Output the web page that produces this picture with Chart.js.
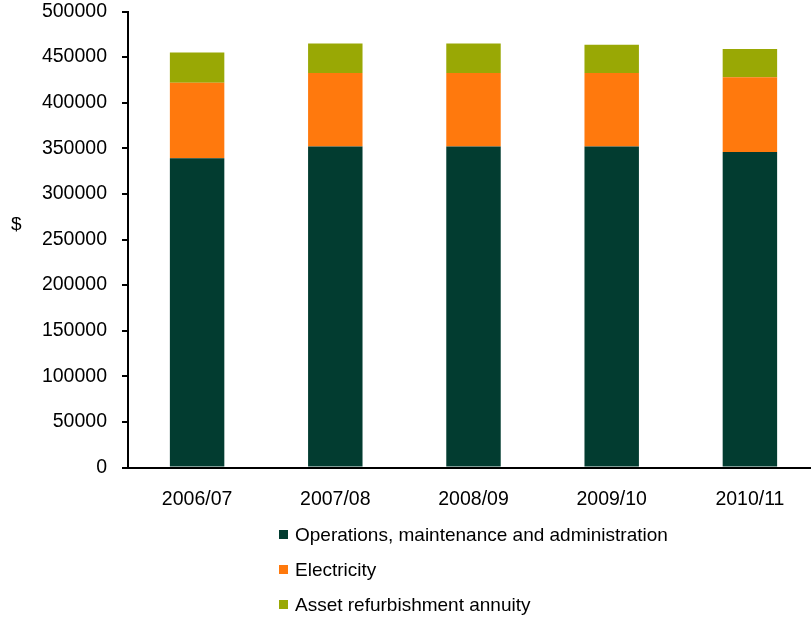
<!DOCTYPE html>
<html>
<head>
<meta charset="utf-8">
<title>Annual costs</title>
<script src="https://cdn.jsdelivr.net/npm/chart.js@4"></script>
<style>
    body { margin: 0; overflow: hidden; background: #fff; font-family: "Liberation Sans", Arial, sans-serif; color: #000; }
    #wrap { position: relative; width: 811px; height: 620px; overflow: hidden; }
    #chart { position: absolute; left: 0; top: 0; }
    #y-title { position: absolute; left: 11px; top: 213px; font-size: 19px; }
    #legend { position: absolute; left: 279px; top: 517px; }
    .legend-item { display: flex; align-items: center; height: 35px; font-size: 19px; }
    .legend-swatch { width: 9px; height: 9px; margin-right: 7px; }
</style>
</head>
<body>
<div id="wrap">
    <canvas id="chart" width="819" height="520"></canvas>
    <div id="y-title">$</div>
    <div id="legend"></div>
</div>
<script>
// Financial years
const years = ['2006/07', '2007/08', '2008/09', '2009/10', '2010/11'];

// Cost components ($)
const operations = [339000, 352000, 352000, 352000, 346000];
const electricity = [83000, 80500, 80500, 80500, 82000];
const assetAnnuity = [33000, 32500, 32500, 31000, 31000];

const seriesNames = [
    'Operations, maintenance and administration',
    'Electricity',
    'Asset refurbishment annuity'
];
const seriesColors = ['#023c30', '#ff790d', '#99a805'];

const tickFont = { family: '"Liberation Sans", Arial, sans-serif', size: 19.5 };

const datasets = [operations, electricity, assetAnnuity].map((values, i) => ({
    label: seriesNames[i],
    data: values,
    backgroundColor: seriesColors[i],
    borderWidth: 0,
    barPercentage: 0.394,
    categoryPercentage: 1
}));

const costChart = new Chart(document.getElementById('chart'), {
    type: 'bar',
    data: { labels: years, datasets: datasets },
    options: {
        responsive: false,
        animation: false,
        devicePixelRatio: 1,
        layout: { padding: 0 },
        plugins: {
            legend: { display: false },
            tooltip: { enabled: false }
        },
        scales: {
            x: {
                stacked: true,
                grid: { drawOnChartArea: false, drawTicks: false },
                border: { color: '#000', width: 2 },
                ticks: { color: '#000', font: tickFont, padding: 20 },
                afterFit: scale => { scale.height = 52.5; }
            },
            y: {
                stacked: true,
                min: 0,
                max: 500000,
                grid: { drawOnChartArea: false, drawTicks: true, tickLength: 6, color: '#000', lineWidth: 2 },
                border: { color: '#000', width: 2 },
                ticks: {
                    stepSize: 50000,
                    color: '#000',
                    font: tickFont,
                    padding: 15,
                    // plain numbers, no thousands separators
                    callback: value => String(value)
                },
                afterFit: scale => {
                    scale.width = 128;
                    // keep the top of the plot close to the canvas edge
                    scale.paddingTop = 11.5;
                }
            }
        }
    }
});

// Legend stacked one entry per row, left aligned
const legendBox = document.getElementById('legend');
costChart.data.datasets.forEach(ds => {
    const item = document.createElement('div');
    item.className = 'legend-item';
    const swatch = document.createElement('span');
    swatch.className = 'legend-swatch';
    swatch.style.backgroundColor = ds.backgroundColor;
    const text = document.createElement('span');
    text.textContent = ds.label;
    item.appendChild(swatch);
    item.appendChild(text);
    legendBox.appendChild(item);
});
</script>
</body>
</html>
